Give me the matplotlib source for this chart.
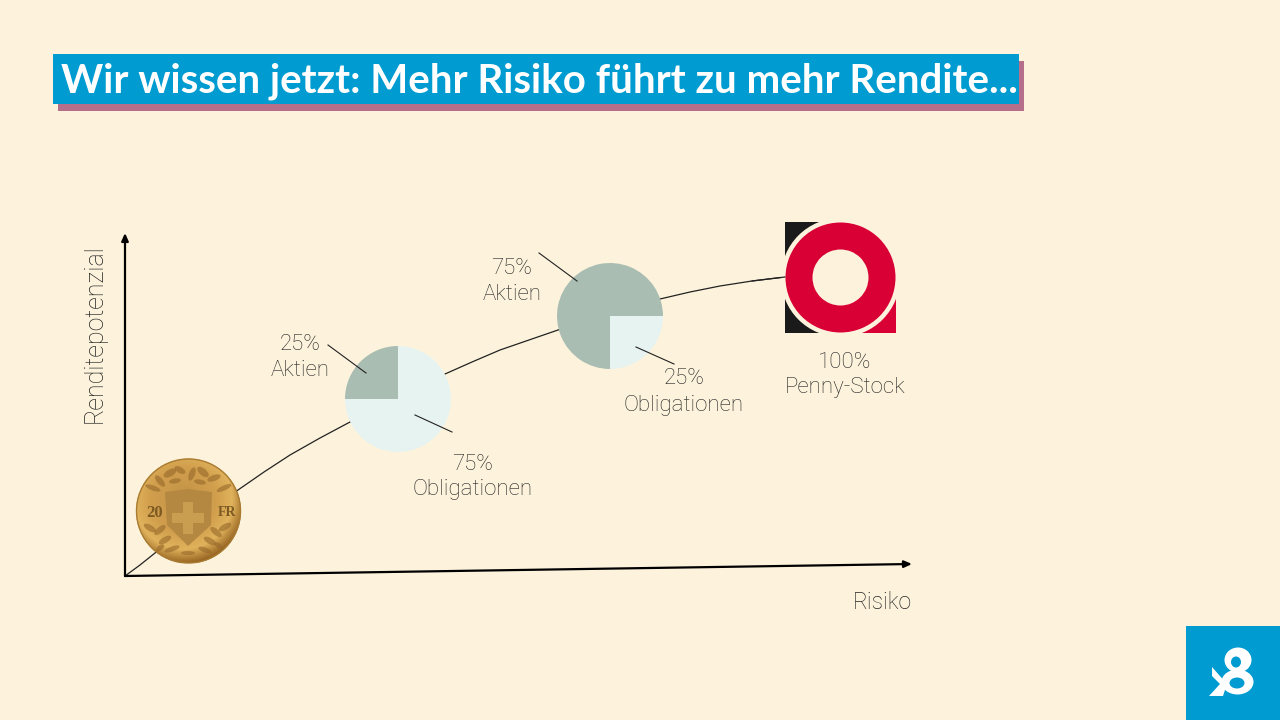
import numpy as np
import matplotlib
matplotlib.use("Agg")
import matplotlib.pyplot as plt
from matplotlib.patches import Rectangle, Circle, Ellipse, Polygon, Wedge

BG = "#fdf3dc"
BLUE = "#009bd0"
PINK = "#b56f8b"
DARK = "#a9bdb2"
LIGHT = "#e7f3f1"
RED = "#d90036"
TXT = "#222222"

title = "Wir wissen jetzt: Mehr Risiko führt zu mehr Rendite..."

# return curve, pixel positions of the slide
curve_x = [125, 140, 155, 172, 190, 214, 238, 264, 290, 320, 350, 375, 400, 422,
           445, 472, 500, 529, 558, 584, 610, 635, 660, 690, 720, 752, 785]
curve_y = [576, 565, 553, 539, 524, 507, 490, 472, 455, 438, 422, 409, 396, 385,
           374, 362, 350, 340, 330, 321, 313, 306, 299, 292, 286, 281, 277]

mix_labels = ["Aktien", "Obligationen"]
mix_low = [25, 75]
mix_high = [75, 25]

plt.rcParams['font.family'] = ['Roboto', 'DejaVu Sans']

fig = plt.figure(figsize=(12.8, 7.2), dpi=100, facecolor=BG)
ax = fig.add_axes([0, 0, 1, 1])


def Y(y):
    # picture y runs downward, the axes run upward
    return 720 - y


def label(x, y, s, **kw):
    ax.text(x, Y(y), s, ha="center", va="center", fontsize=16, color=TXT,
            fontweight="light", **kw)


def leader(x0, y0, x1, y1):
    ax.plot([x0, x1], [Y(y0), Y(y1)], color="#222222", lw=0.8, zorder=6)


def arrow(x0, y0, x1, y1):
    ax.annotate("", xy=(x1, Y(y1)), xytext=(x0, Y(y0)),
                arrowprops=dict(arrowstyle="-|>,head_width=0.2,head_length=0.45",
                                color="black", lw=1.6, shrinkA=0, shrinkB=0), zorder=3)


# title banner
ax.add_patch(Rectangle((58, Y(111)), 966, 50, color=PINK, lw=0))
ax.add_patch(Rectangle((53, Y(104)), 966, 50, color=BLUE, lw=0))
ax.text(61, Y(92), title, color="white", fontsize=29, fontweight="bold",
        ha="left", va="baseline", family="Lato")

# axes and curve
arrow(125, 576, 125, 233)
arrow(125, 576, 912, 564)
ax.plot(curve_x, [Y(v) for v in curve_y], color="#222222", lw=0.9, zorder=2)
ax.plot(curve_x[-2:], [Y(v) for v in curve_y[-2:]], color="#222222", lw=0.9, zorder=5.2)

ax.text(95, Y(333.5), "Renditepotenzial", rotation=90, ha="center", va="center",
        fontsize=18, color=TXT, fontweight="light")
ax.text(912, Y(602), "Risiko", ha="right", va="center", fontsize=16.5, color=TXT,
        fontweight="light")

# allocation pies
ax.pie(mix_low, colors=[DARK, LIGHT], startangle=90, radius=53, center=(398, Y(399)),
       wedgeprops=dict(linewidth=0, zorder=4), frame=True)
ax.pie(mix_high, colors=[DARK, LIGHT], startangle=0, radius=53, center=(610, Y(316)),
       wedgeprops=dict(linewidth=0, zorder=4), frame=True)

leader(328, 345, 366, 373)
leader(415, 415, 452, 432)
leader(539, 253, 577, 281)
leader(636, 347, 674, 364)

label(300, 344, f"{mix_low[0]}%")
label(300, 370, mix_labels[0])
label(473, 464, f"{mix_low[1]}%")
label(473, 490, mix_labels[1])
label(512, 268, f"{mix_high[0]}%")
label(512, 294, mix_labels[0])
label(684, 379, f"{mix_high[1]}%")
label(684, 405, mix_labels[1])
label(845, 362, "100%")
label(845, 388, "Penny-Stock")

# gold coin
cx, cy, r = 188.5, 511, 52.5
yy, xx = np.mgrid[-1:1:220j, -1:1:220j]
shade = np.clip(np.hypot(xx + 0.1, yy + 0.2), 0, 1.25) / 1.25
stops = np.array([[0.76, 0.58, 0.28], [0.82, 0.62, 0.30], [0.88, 0.70, 0.36], [0.55, 0.35, 0.10]])
img = np.dstack([np.interp(shade, [0, 0.5, 0.75, 1], stops[:, i]) for i in range(3)])
im = ax.imshow(img, extent=(cx - r, cx + r, Y(cy + r), Y(cy - r)), zorder=5,
               aspect="auto", interpolation="bilinear")
im.set_clip_path(Circle((cx, Y(cy)), r, transform=ax.transData))
ax.add_patch(Circle((cx, Y(cy)), r - 0.5, fill=False, ec="#a97c33", lw=1, zorder=5.5))
ax.add_patch(Polygon([(165, Y(492)), (188, Y(489)), (212, Y(492)), (211, Y(525)),
                      (188, Y(546)), (167, Y(525))], color="#b48841", lw=0, zorder=6))
ax.add_patch(Rectangle((172, Y(523)), 32, 10, color="#c99e50", lw=0, zorder=6.1))
ax.add_patch(Rectangle((183, Y(534)), 10, 32, color="#c99e50", lw=0, zorder=6.1))
for ex, ey, ew, eh, ang in [(170, 473, 14, 7, 30), (180, 470, 12, 6, -30), (192, 474, 14, 6, 70),
                            (203, 472, 14, 7, -40), (214, 478, 14, 6, 20), (160, 481, 14, 6, -50),
                            (153, 488, 16, 5, -20), (224, 488, 16, 5, 25), (175, 481, 12, 5, 10),
                            (200, 482, 12, 5, -10), (150, 528, 14, 6, -30), (160, 530, 14, 6, 40),
                            (165, 540, 14, 6, 30), (225, 527, 14, 6, 30), (216, 532, 14, 6, -40),
                            (210, 541, 14, 6, -30), (172, 549, 16, 5, 20), (188, 553, 14, 4, 0),
                            (205, 550, 14, 5, -20), (160, 548, 10, 5, 40), (219, 546, 10, 5, -40)]:
    ax.add_patch(Ellipse((ex, Y(ey)), ew, eh, angle=ang, color="#96692a", alpha=0.6, lw=0, zorder=6))
ax.text(155, Y(513), "20", color="#7d5a22", fontsize=12, fontweight="bold", ha="center",
        va="center", family="Liberation Serif", zorder=7)
ax.text(227, Y(513), "FR", color="#7d5a22", fontsize=10, fontweight="bold", ha="center",
        va="center", family="Liberation Serif", zorder=7)

# penny stock logo
lx, ly, lr = 840.5, 277.5, 55
ax.add_patch(Rectangle((785, Y(333)), 56, 111, color="#1a1a1a", lw=0, zorder=5))
ax.add_patch(Rectangle((840, Y(333)), 56, 55, color=RED, lw=0, zorder=5))
ax.add_patch(Circle((lx, Y(ly)), 59.5, color=BG, lw=0, zorder=5.1))
ax.add_patch(Wedge((lx, Y(ly)), lr, 0, 360, width=27, color=RED, lw=0, zorder=5.3))

# corner logo
ax.add_patch(Rectangle((1186, 0), 94, 94, color=BLUE, lw=0))
ax.add_patch(Ellipse((1238, Y(660)), 27, 25, color="white", lw=0, zorder=3))
ax.add_patch(Ellipse((1237.5, Y(682)), 32, 25, color="white", lw=0, zorder=3))
ax.add_patch(Ellipse((1236, Y(662)), 10, 11, color=BLUE, lw=0, zorder=4))
ax.add_patch(Ellipse((1237, Y(683)), 15, 11, color=BLUE, lw=0, zorder=4))
ax.add_patch(Polygon([(1212, Y(667)), (1227, Y(684)), (1223, Y(696)), (1209, Y(696)),
                      (1220, Y(684)), (1212, Y(676))], color="white", lw=0, zorder=5))

ax.set_xlim(0, 1280)
ax.set_ylim(0, 720)
ax.set_aspect("equal")
ax.axis("off")
fig.savefig("out.png", dpi=100, facecolor=BG)
